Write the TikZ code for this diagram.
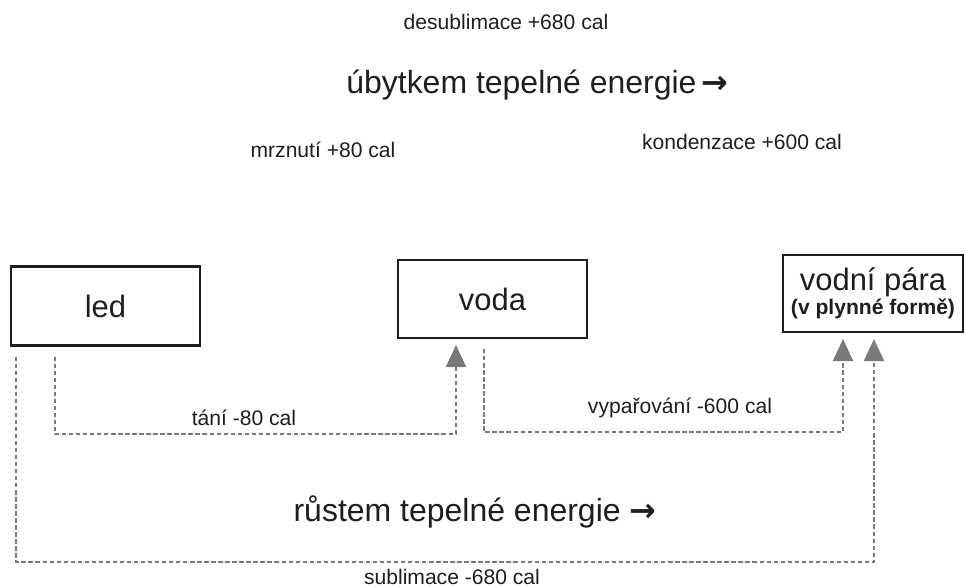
\documentclass[tikz,border=0pt]{standalone}
\usepackage{fontspec}
\setmainfont{Liberation Sans}
\newfontfamily\arrowfont{DejaVu Sans}
\usetikzlibrary{arrows.meta,positioning,calc}
\usepackage{xcolor}
\definecolor{Ink}{HTML}{1E1E1E}
\definecolor{Trail}{HTML}{7A7A7A}
\newcommand{\heatarrow}{{\arrowfont\bfseries →}}

\begin{document}
\begin{tikzpicture}[x=1cm,y=1cm,
  phase/.style={draw=Ink,line width=1.2pt,minimum width=3.78cm,minimum height=1.58cm,inner sep=0pt,text=Ink,font=\fontsize{17.6}{20}\selectfont},
  heat/.style={text=Ink,font=\fontsize{18.2}{20}\selectfont},
  note/.style={text=Ink,font=\fontsize{12}{14}\selectfont},
  trail/.style={Trail,line width=1.3pt,dash pattern=on 2.5pt off 1.5pt},
  tip/.style={-{Triangle[width=0.40cm,length=0.44cm]},shorten >=0.12cm}]
\useasboundingbox (0,0) rectangle (19.30,11.74);
\node[phase] (led) at (2.11,5.62) {led};
\node[phase,minimum height=1.56cm] (voda) at (9.85,5.76) {voda};
\node[phase,minimum width=3.60cm,minimum height=1.54cm,align=center] (para) at (17.46,5.87) {vodní pára\\[-6pt]{\bfseries\fontsize{12}{14}\selectfont (v plynné formě)}};
\node[note] (desub) at (10.12,11.30) {desublimace +680 cal};
\node[heat] (ubytek) at (10.75,10.04) {úbytkem tepelné energie\,\heatarrow};
\node[note] (mraz) at (6.46,8.74) {mrznutí +80 cal};
\node[note] (kond) at (14.84,8.90) {kondenzace +600 cal};
\node[note] (tani) at (4.88,3.38) {tání -80 cal};
\node[note] (vypar) at (13.60,3.58) {vypařování -600 cal};
\node[heat] (rust) at (9.50,1.50) {růstem tepelné energie \heatarrow};
\node[note] (subl) at (9.04,0.20) {sublimace -680 cal};
\coordinate (m1) at (1.10,3.06);
\coordinate (m2) at (9.12,3.06);
\coordinate (e1) at (9.68,3.10);
\coordinate (e2) at (16.86,3.10);
\coordinate (s1) at (0.32,0.50);
\coordinate (s2) at (17.48,0.50);
\draw[trail,tip,shorten <=0.2cm] (led.south -| m1) -- (m1) -- (m2) -- (voda.south -| m2);
\draw[trail,tip,shorten <=0.2cm] (voda.south -| e1) -- (e1) -- (e2) -- (para.south -| e2);
\draw[trail,tip,shorten <=0.2cm] (led.south -| s1) -- (s1) -- (s2) -- (para.south -| s2);
\end{tikzpicture}
\end{document}
